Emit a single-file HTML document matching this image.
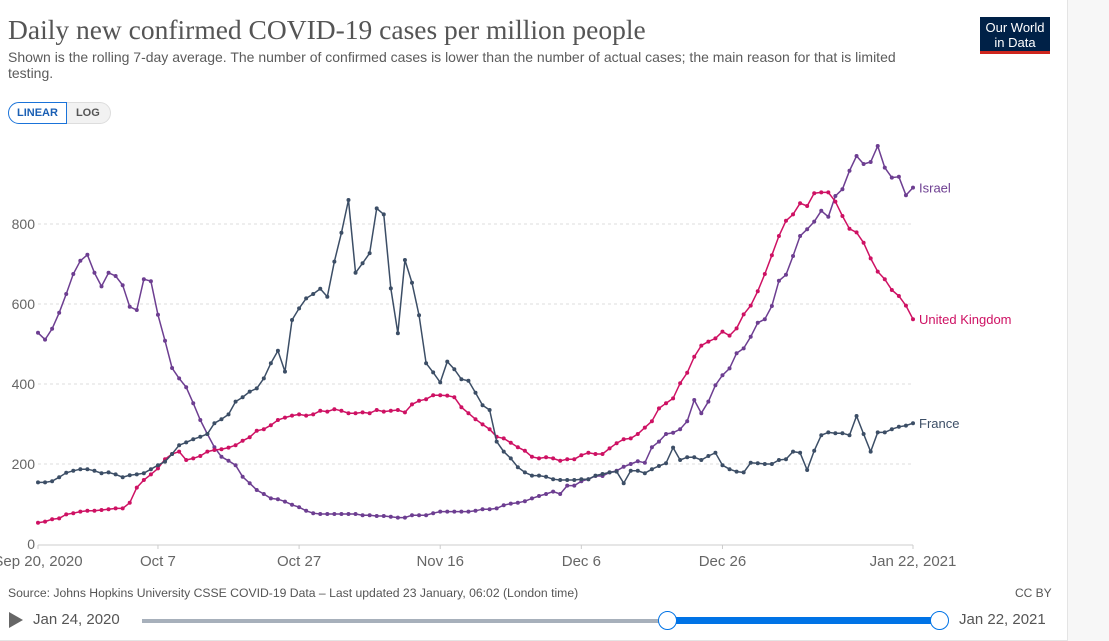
<!DOCTYPE html>
<html><head><meta charset="utf-8"><style>
body{margin:0;width:1109px;height:641px;overflow:hidden;background:#fff;font-family:"Liberation Sans",sans-serif;position:relative}
.abs{position:absolute}
</style></head><body>
<div class="abs" style="left:1067px;top:0;width:42px;height:641px;background:#f7f7f7;border-left:1px solid #e4e4e4"></div>
<div class="abs" style="left:8px;top:14px;font-family:'Liberation Serif',serif;font-size:27.5px;color:#555;white-space:nowrap">Daily new confirmed COVID-19 cases per million people</div>
<div class="abs" style="left:8px;top:49px;width:895px;font-size:14px;line-height:16px;color:#5b5b5b">Shown is the rolling 7-day average. The number of confirmed cases is lower than the number of actual cases; the main reason for that is limited testing.</div>
<div class="abs" style="left:980px;top:17px;width:70px;height:37px;background:#002147;border-bottom:3px solid #ce261e;color:#fff;font-size:13px;line-height:15px;text-align:center;padding-top:3px;box-sizing:border-box">Our World<br>in Data</div>
<div class="abs" style="left:8px;top:102px;height:22px;display:flex;font-size:11px;font-weight:bold">
<div style="border:1px solid #1a73d9;color:#1a5fb4;border-radius:11px 0 0 11px;padding:0 8px;line-height:20px">LINEAR</div>
<div style="border:1px solid #ddd;border-left:none;background:#f2f2f2;color:#555;border-radius:0 11px 11px 0;padding:0 10px 0 9px;line-height:20px">LOG</div>
</div>
<svg class="abs" style="left:0;top:0" width="1109" height="641" id="chart"></svg>
<div class="abs" style="left:8px;top:586px;font-size:12.2px;color:#555">Source: Johns Hopkins University CSSE COVID-19 Data – Last updated 23 January, 06:02 (London time)</div>
<div class="abs" style="left:1015px;top:586px;font-size:12px;color:#555">CC BY</div>
<div class="abs" style="left:9px;top:612px;width:0;height:0;border-left:14px solid #666;border-top:8px solid transparent;border-bottom:8px solid transparent"></div>
<div class="abs" style="left:33px;top:611px;font-size:15px;color:#555">Jan 24, 2020</div>
<div class="abs" style="left:142px;top:619px;width:798px;height:4px;background:#a7b0bb"></div>
<div class="abs" style="left:668px;top:617px;width:272px;height:7px;background:#0073e6"></div>
<div class="abs" style="left:658px;top:611px;width:17px;height:17px;border-radius:50%;background:#fff;border:1.5px solid #0073e6"></div>
<div class="abs" style="left:930px;top:611px;width:17px;height:17px;border-radius:50%;background:#fff;border:1.5px solid #0073e6"></div>
<div class="abs" style="left:959px;top:611px;font-size:15px;color:#555">Jan 22, 2021</div>
<div class="abs" style="left:0;top:640px;width:1067px;height:1px;background:#e4e4e4"></div>
<script>
const israel=[528,511,538,578,625,675,708,723,678,644,678,670,647,593,585,662,657,573,508,440,414,392,352,310,275,242,218,208,197,168,152,135,125,114,112,106,98,92,83,77,75,75,
75,75,75,75,72,72,70,70,68,66,66,72,72,72,77,81,81,81,81,81,83,87,87,89,97,101,103,107,114,120,125,131,125,146,146,157,162,170,
170,179,183,193,200,207,203,242,256,275,278,287,307,360,327,356,397,422,439,477,489,518,553,562,595,658,673,720,770,787,806,833,818,870,887,933,970,950,955,995,941,916,918,872,891];
const uk=[53,56,62,64,74,77,81,83,83,85,87,89,89,103,141,160,174,189,212,225,231,210,214,220,231,235,237,241,247,258,267,283,287,297,310,316,321,324,321,324,333,331,
337,333,327,327,329,327,335,331,333,335,329,349,358,362,372,372,371,367,342,327,312,299,287,268,264,253,242,233,218,214,217,214,208,212,212,222,228,225,
225,239,252,262,264,275,291,307,339,352,364,402,428,468,496,506,514,531,521,539,574,596,632,675,722,770,808,824,852,845,877,879,879,856,820,788,779,753,714,681,662,635,620,596,562];
const france=[154,154,157,167,178,183,187,187,183,177,179,174,167,172,174,177,187,197,206,225,247,254,262,268,275,302,312,324,356,367,381,389,414,452,483,431,560,589,614,625,638,618,
706,778,860,678,702,727,839,824,639,527,710,653,572,452,429,404,456,437,412,408,378,347,335,256,231,214,192,179,171,171,168,162,160,160,160,162,162,171,
175,179,181,152,183,183,177,187,195,202,241,210,217,217,210,220,228,197,187,181,179,203,202,200,200,210,212,231,228,185,233,272,279,277,277,272,320,275,231,279,279,287,293,296,302];
const yTicks=[0,200,400,600,800];
const xTickDays=[0,17,37,57,77,97,124];
const xTickLabels=["Sep 20, 2020","Oct 7","Oct 27","Nov 16","Dec 6","Dec 26","Jan 22, 2021"];
const seriesNames=["Israel","United Kingdom","France"];
const seriesColors=["#6d3e91","#ce1163","#3c4e66"];
const allSeries=[israel,uk,france];
const X0=38,X1=913,Y0=544,YPER=0.4,N=124;
const x=d=>X0+(X1-X0)*d/N;
const y=v=>Y0-v*YPER;
const svg=document.getElementById('chart');
const NS="http://www.w3.org/2000/svg";
function mk(t,a){const e=document.createElementNS(NS,t);for(const k in a)e.setAttribute(k,a[k]);svg.appendChild(e);return e;}
yTicks.forEach(v=>{
  if(v>0){const g=mk('line',{x1:X0,x2:X1,y1:y(v),y2:y(v),stroke:'#ddd','stroke-dasharray':'3,3'});
  
  }
  const t=mk('text',{x:35,y:y(v)+5,'text-anchor':'end','font-size':14,fill:'#666','font-family':'Liberation Sans, sans-serif'});
  t.textContent=v;
  
  
});
const ax=mk('line',{x1:X0,x2:X1,y1:Y0+1,y2:Y0+1,stroke:'#ccc'});


xTickDays.forEach((d,i)=>{
  const tk=mk('line',{x1:x(d),x2:x(d),y1:Y0+1,y2:Y0+5,stroke:'#ccc'});
  
  
  const t=mk('text',{x:x(d),y:566,'text-anchor':'middle','font-size':15,fill:'#666','font-family':'Liberation Sans, sans-serif'});
  t.textContent=xTickLabels[i];
  
  
});
allSeries.forEach((s,si)=>{
  const p=mk('polyline',{points:s.map((v,i)=>x(i)+','+y(v)).join(' '),fill:'none',stroke:seriesColors[si],'stroke-width':1.5});
  
  
  s.forEach((v,i)=>{
    const c=mk('circle',{cx:x(i),cy:y(v),r:2,fill:seriesColors[si]});
    
    
  });
  const l=mk('text',{x:919,y:y(s[s.length-1])+5,'font-size':13,fill:seriesColors[si],'font-family':'Liberation Sans, sans-serif'});
  l.textContent=seriesNames[si];
  
  
});
</script>
</body></html>
